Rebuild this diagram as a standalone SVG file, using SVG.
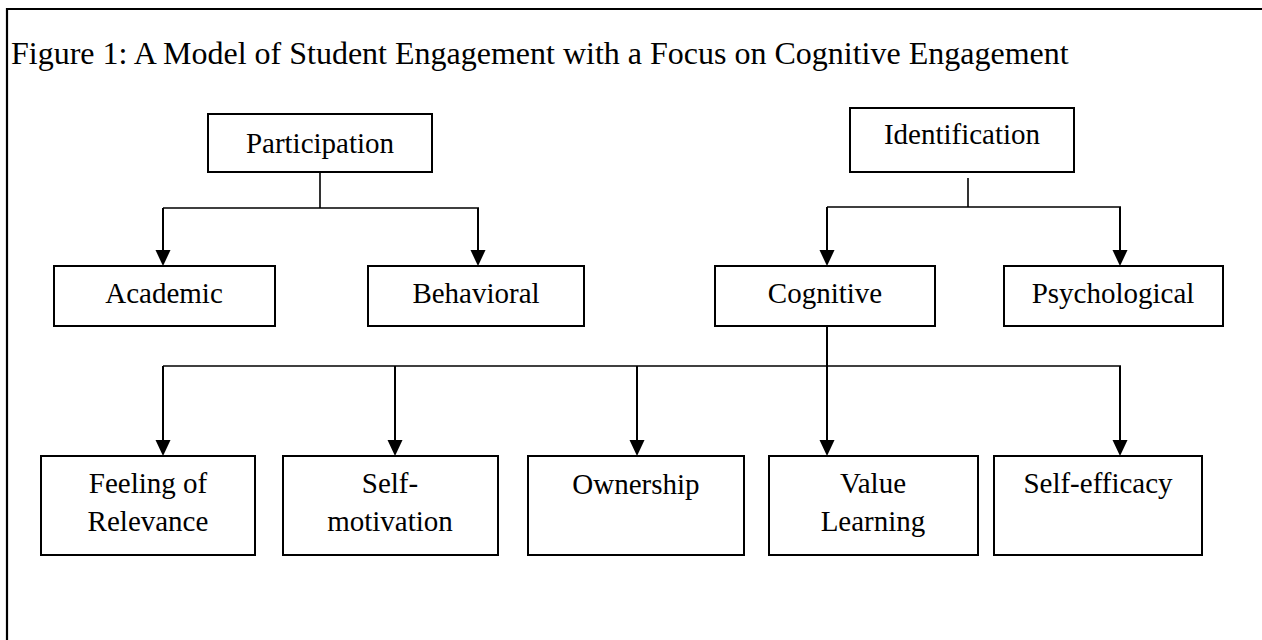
<svg xmlns="http://www.w3.org/2000/svg" width="1262" height="640" viewBox="0 0 1262 640">
<style>
.box{fill:#fff;stroke:#000;stroke-width:2}
.t{font-family:"Liberation Serif","Times New Roman",serif;font-size:29px;fill:#000;text-anchor:middle}
.title{font-family:"Liberation Serif","Times New Roman",serif;font-size:32px;fill:#000}
.ln{stroke:#000;stroke-width:2;fill:none}
.hl{stroke:#000;stroke-width:1.6;fill:none}
.ah{fill:#000}
</style>
<rect width="1262" height="640" fill="#fff"/>
<path d="M7,640 V9 H1262" stroke="#000" stroke-width="2.2" fill="none"/>
<text class="title" x="11" y="64">Figure 1: A Model of Student Engagement with a Focus on Cognitive Engagement</text>
<g id="connectors">
<path class="hl" d="M320,172 V208 M163,208 H479"/>
<path class="ln" d="M163,208 V252 M478,208 V252"/>
<path class="hl" d="M968,178 V207 M827,207 H1121"/>
<path class="ln" d="M827,207 V252 M1120,207 V252"/>
<path class="ln" d="M827,326 V442"/>
<path class="hl" d="M163,366 H1121"/>
<path class="ln" d="M163,366 V442 M395,366 V442 M637,366 V442 M1120,366 V442"/>
<polygon class="ah" points="155.5,250 170.5,250 163,266"/>
<polygon class="ah" points="470.5,250 485.5,250 478,266"/>
<polygon class="ah" points="819.5,250 834.5,250 827,266"/>
<polygon class="ah" points="1112.5,250 1127.5,250 1120,266"/>
<polygon class="ah" points="155.5,440 170.5,440 163,456"/>
<polygon class="ah" points="387.5,440 402.5,440 395,456"/>
<polygon class="ah" points="629.5,440 644.5,440 637,456"/>
<polygon class="ah" points="819.5,440 834.5,440 827,456"/>
<polygon class="ah" points="1112.5,440 1127.5,440 1120,456"/>
</g>
<g id="participation"><rect class="box" x="208" y="114" width="224" height="58"/><text class="t" x="320" y="153">Participation</text></g>
<g id="identification"><rect class="box" x="850" y="108" width="224" height="64"/><text class="t" x="962" y="144">Identification</text></g>
<g id="academic"><rect class="box" x="54" y="266" width="221" height="60"/><text class="t" x="164" y="303">Academic</text></g>
<g id="behavioral"><rect class="box" x="368" y="266" width="216" height="60"/><text class="t" x="476" y="303">Behavioral</text></g>
<g id="cognitive"><rect class="box" x="715" y="266" width="220" height="60"/><text class="t" x="825" y="303">Cognitive</text></g>
<g id="psychological"><rect class="box" x="1004" y="266" width="219" height="60"/><text class="t" x="1113" y="303">Psychological</text></g>
<g id="relevance"><rect class="box" x="41" y="456" width="214" height="99"/><text class="t" x="148" y="493">Feeling of</text><text class="t" x="148" y="531">Relevance</text></g>
<g id="selfmotivation"><rect class="box" x="283" y="456" width="215" height="99"/><text class="t" x="390" y="493">Self-</text><text class="t" x="390" y="531">motivation</text></g>
<g id="ownership"><rect class="box" x="528" y="456" width="216" height="99"/><text class="t" x="636" y="494">Ownership</text></g>
<g id="valuelearning"><rect class="box" x="769" y="456" width="209" height="99"/><text class="t" x="873" y="493">Value</text><text class="t" x="873" y="531">Learning</text></g>
<g id="selfefficacy"><rect class="box" x="994" y="456" width="208" height="99"/><text class="t" x="1098" y="493">Self-efficacy</text></g>
</svg>
